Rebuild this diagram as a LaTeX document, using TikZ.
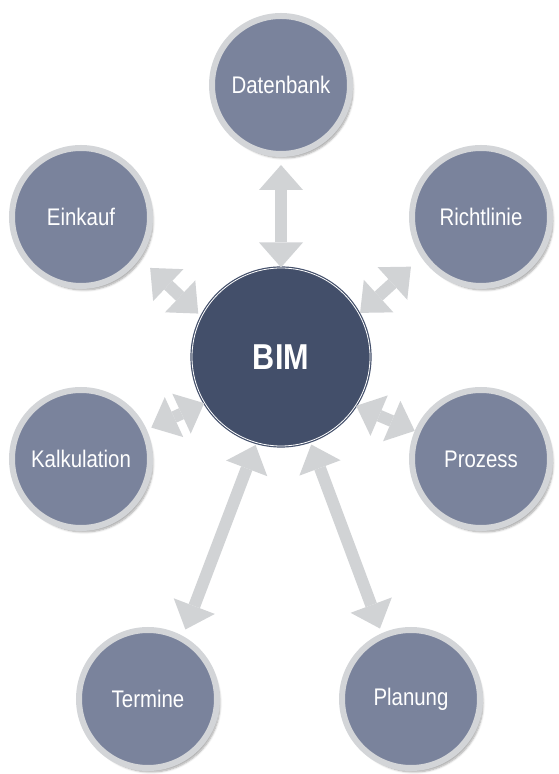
\documentclass[tikz,border=0pt]{standalone}
\usepackage{fontspec}
\setmainfont{Liberation Sans}[FakeStretch=0.85]
\usetikzlibrary{positioning,arrows.meta,shadows.blur}
\definecolor{bimblue}{HTML}{434F6A}
\definecolor{satblue}{HTML}{7A839C}
\definecolor{ringgrey}{HTML}{D3D5D8}
\definecolor{linkgrey}{HTML}{D1D3D5}

\begin{document}
\begin{tikzpicture}[x=1pt,y=1pt,on grid,
	sat/.style={circle,draw=ringgrey,line width=6pt,fill=satblue,minimum size=138pt,inner sep=0pt,text=white,
		font=\fontsize{24}{28}\selectfont,
		blur shadow={shadow xshift=3pt,shadow yshift=-4pt,shadow blur steps=6,shadow opacity=35}},
	hub/.style={circle,draw=bimblue,double=white,double distance=0.8pt,line width=1.2pt,fill=bimblue,
		minimum size=178pt,inner sep=0pt,text=white,font=\fontsize{36}{40}\selectfont\bfseries},
	tip/.tip={Triangle[width=44pt,length=25pt,line width=0pt,fill=linkgrey,color=linkgrey]},
	link/.style={color=linkgrey,line width=12pt,tip-tip}]
	\useasboundingbox (0,0) rectangle (558,774);
	\node[hub] (bim) at (281,417) {BIM};
	\node[sat] (dat) [above=272pt of bim] {Datenbank};
	\node[sat] (ein) [above left=140pt and 200pt of bim] {Einkauf};
	\node[sat] (ric) [above right=140pt and 200pt of bim] {Richtlinie};
	\node[sat] (kal) [below left=102pt and 200pt of bim] {Kalkulation};
	\node[sat] (pro) [below right=102pt and 200pt of bim] {Prozess};
	\node[sat] (ter) [below left=342pt and 133pt of bim] {Termine};
	\node[sat] (pla) [below right=342pt and 130pt of bim] {Planung};
	\path[link]
	(bim.90) edge [shorten >=8pt] (dat.-90)
	(bim.153) edge [shorten <=4pt, shorten >=14pt] (ein.-35)
	(bim.29) edge [shorten <=1pt, shorten >=14pt] (ric.214)
	(bim.211) edge [shorten >=5pt] (kal.24)
	(bim.-33) edge (pro.157)
	(bim.-106) edge [shorten <=2pt, shorten >=7pt] (ter.61)
	(bim.-71) edge [shorten <=3pt, shorten >=5pt] (pla.114)
	;
\end{tikzpicture}
\end{document}
